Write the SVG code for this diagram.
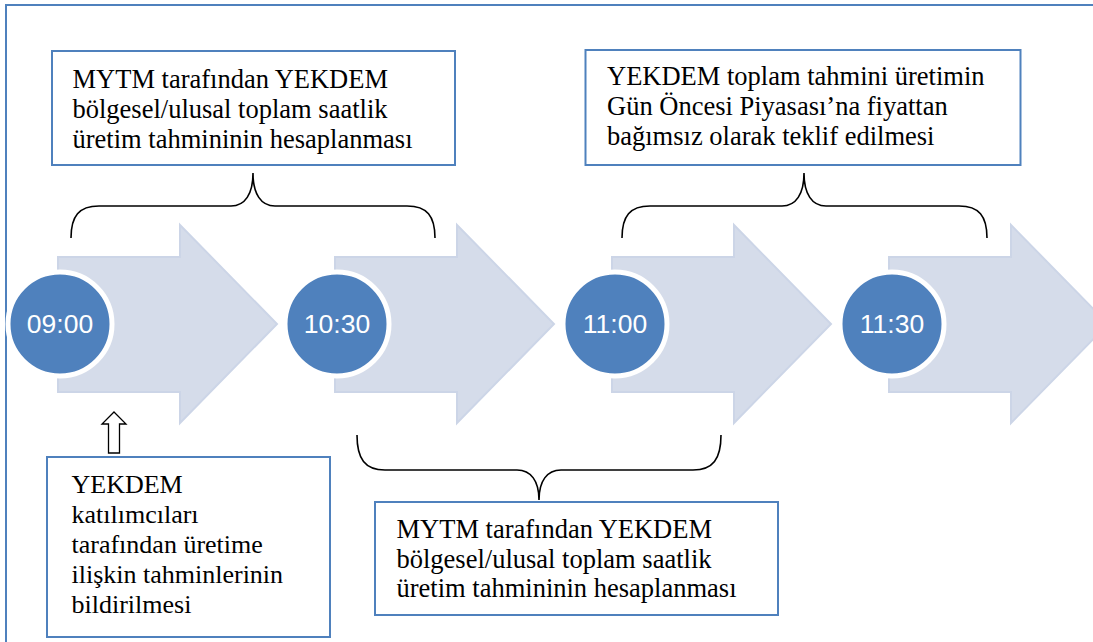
<svg xmlns="http://www.w3.org/2000/svg" width="1093" height="642" viewBox="0 0 1093 642">
<style>
.frame{fill:none;stroke:#4F81BD;stroke-width:2}
.arrow{fill:#D5DCEA;stroke:#CCD5E7;stroke-width:2}
.circ{fill:#4F81BD;stroke:#FFFFFF;stroke-width:5}
.ctext{font-family:"Liberation Sans",Arial,sans-serif;font-size:26.5px;fill:#FFFFFF;text-anchor:middle}
.box{fill:#FFFFFF;stroke:#4F81BD;stroke-width:2}
.btext{font-family:"Liberation Serif","Times New Roman",serif;font-size:26.5px;fill:#000000}
.small{font-size:26px}
.brace{fill:none;stroke:#000000;stroke-width:1.6}
.up{fill:#FFFFFF;stroke:#000000;stroke-width:1.3}
</style>
<rect width="1093" height="642" fill="#FFFFFF"/>
<path class="frame" d="M6,642 L6,5 L1093,5"/>
<g id="timeline">
<polygon class="arrow" points="58,257 180,257 180,225 277,324 180,423 180,392 58,392"/>
<polygon class="arrow" points="335,257 457,257 457,225 554,324 457,423 457,392 335,392"/>
<polygon class="arrow" points="612,257 734,257 734,225 831,324 734,423 734,392 612,392"/>
<polygon class="arrow" points="889,257 1011,257 1011,225 1108,324 1011,423 1011,392 889,392"/>
</g>
<g id="t0900"><circle class="circ" cx="60" cy="324" r="52"/><text class="ctext" x="60" y="333">09:00</text></g>
<g id="t1030"><circle class="circ" cx="337" cy="324" r="52"/><text class="ctext" x="337" y="333">10:30</text></g>
<g id="t1100"><circle class="circ" cx="615" cy="324" r="52"/><text class="ctext" x="615" y="333">11:00</text></g>
<g id="t1130"><circle class="circ" cx="892" cy="324" r="52"/><text class="ctext" x="892" y="333">11:30</text></g>
<g id="connectors">
<path class="brace" d="M71,238 C71,216 79,206 99,206 L231,206 C245,206 253,194 253,173 C253,194 261,206 275,206 L407,206 C427,206 435,216 435,238"/>
<path class="brace" d="M622,238 C622,216 630,206 650,206 L782,206 C796,206 804,194 804,173 C804,194 812,206 826,206 L959,206 C979,206 987,216 987,238"/>
<path class="brace" d="M357,435 C357,459 365,470 385,470 L517,470 C531,470 539,481 539,500 C539,481 547,470 561,470 L693,470 C713,470 721,459 721,435"/>
<polygon class="up" points="114,412 126,424 119.5,424 119.5,453 108.5,453 108.5,424 102,424"/>
</g>
<g id="box1">
<rect class="box" x="52" y="51" width="403" height="114"/>
<text class="btext" x="72.5" y="88">MYTM tarafından YEKDEM</text>
<text class="btext" x="72.5" y="118">bölgesel/ulusal toplam saatlik</text>
<text class="btext" x="72.5" y="147.5">üretim tahmininin hesaplanması</text>
</g>
<g id="box4">
<rect class="box" x="585.5" y="50" width="435" height="115"/>
<text class="btext" x="607" y="85">YEKDEM toplam tahmini üretimin</text>
<text class="btext" x="607" y="115">Gün Öncesi Piyasası’na fiyattan</text>
<text class="btext" x="607" y="145">bağımsız olarak teklif edilmesi</text>
</g>
<g id="box3">
<rect class="box" x="47" y="457" width="283" height="180"/>
<text class="btext small" x="71.5" y="492.5">YEKDEM</text>
<text class="btext small" x="71.5" y="522.5">katılımcıları</text>
<text class="btext small" x="71.5" y="552.5">tarafından üretime</text>
<text class="btext small" x="71.5" y="583">ilişkin tahminlerinin</text>
<text class="btext small" x="71.5" y="613">bildirilmesi</text>
</g>
<g id="box2">
<rect class="box" x="375" y="502" width="403" height="113"/>
<text class="btext" x="396.5" y="537.5">MYTM tarafından YEKDEM</text>
<text class="btext" x="396.5" y="567.5">bölgesel/ulusal toplam saatlik</text>
<text class="btext" x="396.5" y="597">üretim tahmininin hesaplanması</text>
</g>
</svg>
